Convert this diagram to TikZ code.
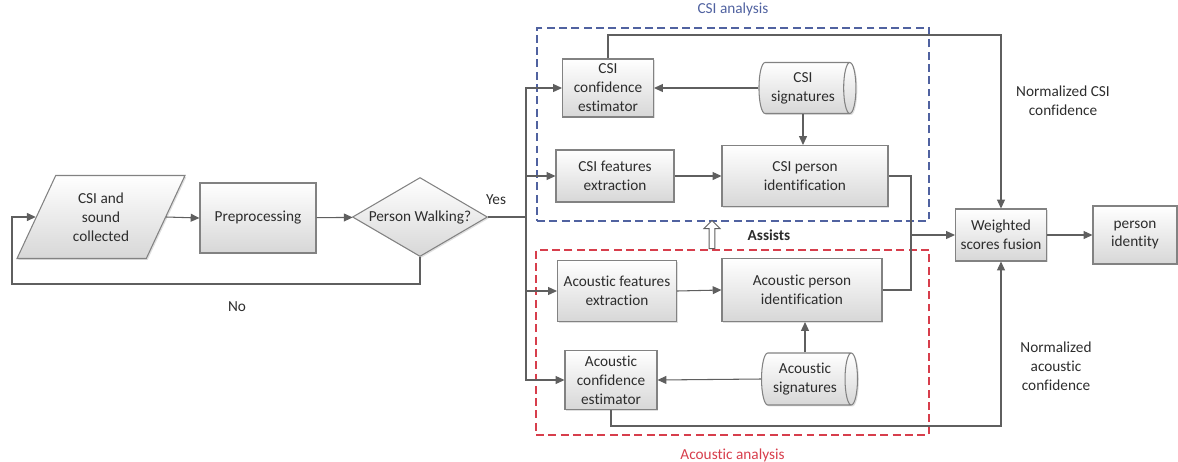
\documentclass[tikz,border=0pt]{standalone}
\usepackage{fontspec}
\setmainfont{Carlito}[Ligatures={NoCommon}]
\usepackage{xcolor}
\usepackage{tikz}
\usetikzlibrary{positioning,fit,arrows.meta,shapes.geometric,shapes.arrows,shadows}

\definecolor{linegray}{RGB}{95,95,95}
\definecolor{boxedge}{RGB}{130,130,130}
\definecolor{boxfill}{RGB}{215,215,215}
\definecolor{txtgray}{RGB}{45,45,45}
\definecolor{csiblue}{RGB}{80,98,160}
\definecolor{acred}{RGB}{215,62,76}

\begin{document}
\begin{tikzpicture}[
			x=0.02cm, y=-0.02cm,
			font=\fontsize{8.7}{10.8}\selectfont, text=txtgray,
			box/.style={draw=boxedge, line width=0.6pt, top color=white, bottom color=boxfill, align=center, inner sep=1pt,
				drop shadow={opacity=0.25, shadow xshift=0.8pt, shadow yshift=-0.8pt}},
			store/.style={box, cylinder, aspect=0.35},
			decision/.style={box, diamond, aspect=1.7, inner sep=0pt},
			inputbox/.style={box, trapezium, trapezium left angle=64, trapezium right angle=116, trapezium stretches=true},
			region/.style={draw, dash pattern=on 4.5pt off 2.5pt, line width=0.7pt, inner sep=0pt},
			wire/.style={draw=linegray, line width=0.6pt},
			arr/.style={wire, -{Triangle[length=5pt,width=4.5pt]}}
			]
			\useasboundingbox (0,0) rectangle (1178,461);
			
			%==================== analysis regions ====================
			\coordinate (csitl) at (537,28);
			\coordinate (csibr) at (929,221);
			\node[region, draw=csiblue, fit=(csitl)(csibr),
			label={[text=csiblue, label distance=3pt]above:CSI analysis}] (csi) {};
			\coordinate (actl) at (536,250);
			\coordinate (acbr) at (929,435);
			\node[region, draw=acred, fit=(actl)(acbr),
			label={[text=acred, label distance=4pt]below:Acoustic analysis}] (acoustic) {};
			
			%==================== input and detection ====================
			\node[inputbox, minimum width=3.36cm, minimum height=1.66cm] (rawdata) at (101,217) {CSI and\\sound\\collected};
			\node[box, minimum width=2.32cm, minimum height=1.4cm] (preproc) at (258,218) {Preprocessing};
			\node[decision, minimum width=2.7cm, minimum height=1.58cm] (walking) at (420,217) {Person Walking?};
			
			\draw[arr] (rawdata.east) -- (preproc.west);
			\draw[arr] (preproc) -- (walking);
			
			\coordinate (nobend) at (12,284);
			\draw[arr] (walking.south) |- (nobend) |- (rawdata.west);
			\node (no) at (237,307) {No};
			
			\coordinate (bus) at (526,217);
			\draw[wire] (walking.east) -- (bus);
			\node (yes) at (496,200) {Yes};
			
			%==================== CSI analysis ====================
			\node[box, minimum width=1.82cm, minimum height=1.16cm] (csiconf) at (608,88) {CSI\\confidence\\estimator};
			\node[store, minimum height=1.94cm, minimum width=1.02cm] (csisig) at (803,88) {CSI\\signatures};
			\node[box, minimum width=2.36cm, minimum height=1.04cm] (csifeat) at (615,176) {CSI features\\extraction};
			\node[box, minimum width=3.32cm, minimum height=1.22cm] (csiid) at (805,176) {CSI person\\identification};
			
			\draw[arr] (bus) |- (csiconf.west);
			\draw[arr] (bus) |- (csifeat.west);
			\draw[arr] (csisig.west) -- (csiconf.east);
			\draw[arr] (csisig.south) -- (csisig.south |- csiid.north);
			\draw[arr] (csifeat.east) -- (csiid.west);
			
			%==================== acoustic analysis ====================
			\node[box, minimum width=2.38cm, minimum height=1.22cm] (acfeat) at (617,291) {Acoustic features\\extraction};
			\node[box, minimum width=3.2cm, minimum height=1.26cm] (acid) at (802,290) {Acoustic person\\identification};
			\node[box, minimum width=1.84cm, minimum height=1.18cm] (acconf) at (611,380) {Acoustic\\confidence\\estimator};
			\node[store, minimum height=1.92cm, minimum width=1.04cm] (acsig) at (805,379) {Acoustic\\signatures};
			
			\draw[arr] (bus) |- (acfeat.west);
			\draw[arr] (bus) |- (acconf.west);
			\draw[arr] (acfeat.east) -- (acid.west);
			\draw[arr] (acsig.north) -- (acsig.north |- acid.south);
			\draw[arr] (acsig.west) -- (acconf.east);
			
			\node[single arrow, draw=linegray, fill=white, line width=0.5pt, shape border rotate=90,
			minimum height=0.56cm, minimum width=0.32cm, single arrow head extend=0.08cm, inner sep=1pt] (assist) at (712,236) {};
			\node[font=\fontsize{8.7}{10.8}\selectfont\bfseries] (assiststxt) at (769,235) {Assists};
			
			%==================== fusion ====================
			\node[box, minimum width=1.82cm, minimum height=1.04cm] (fusion) at (1001,235) {Weighted\\scores fusion};
			\node[box, minimum width=1.68cm, minimum height=1.16cm] (identity) at (1135,235) {person\\identity};
			
			\coordinate (merge) at (911,235);
			\draw[wire] (csiid.east) -| (merge);
			\draw[wire] (acid.east) -| (merge);
			\draw[arr] (merge) -- (fusion.west);
			\draw[arr] (fusion.east) -- (identity.west);
			
			\coordinate (csitop) at (1001,35);
			\coordinate (acbot) at (1001,426);
			\draw[arr] (csiconf.north) |- (csitop) -- (fusion.north);
			\draw[arr] (acconf.south) |- (acbot) -- (fusion.south);
			
			\node[align=center] (csinorm) at (1063,101) {Normalized CSI\\confidence};
			\node[align=center] (acnorm) at (1056,366) {Normalized\\acoustic\\confidence};
			
		\end{tikzpicture}
\end{document}
